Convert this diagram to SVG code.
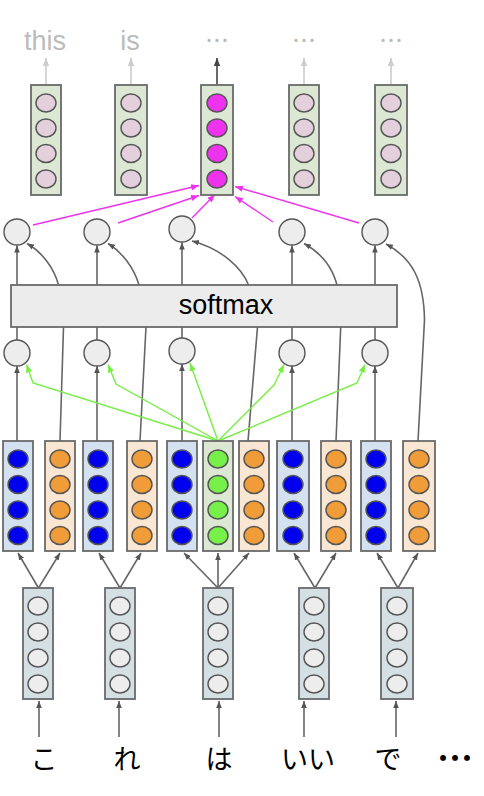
<svg xmlns="http://www.w3.org/2000/svg" width="484" height="796" viewBox="0 0 484 796">
<style>
  .box{stroke:#6a6a6a;stroke-width:1.8}
  .b-out{fill:#dce8d4}
  .b-blue{fill:#d4e1f0}
  .b-orange{fill:#f9e6d3}
  .b-in{fill:#d5e0e4}
  .b-soft{fill:#ececec}
  .n{stroke:#555;stroke-width:1.4}
  .c-pink{fill:#e4d0dc}
  .c-mag{fill:#ee33ee}
  .c-blue{fill:#0000ee}
  .c-orange{fill:#f09c38}
  .c-green{fill:#77f04a}
  .c-gray{fill:#ededed}
  .ln{fill:none;stroke:#666;stroke-width:1.6}
  .lnlight{fill:none;stroke:#cccccc;stroke-width:1.6}
  .lndark{fill:none;stroke:#444;stroke-width:1.6}
  .mag{fill:none;stroke:#ee33ee;stroke-width:1.4}
  .grn{fill:none;stroke:#77ee44;stroke-width:1.4}
  .lbl{font-family:"Liberation Sans",Arial,sans-serif;font-size:27px;fill:#bbbbbb;text-anchor:middle}
  .dots{font-family:"Noto Sans CJK JP","Noto Sans",sans-serif;font-size:24px;fill:#bbbbbb;text-anchor:middle}
  .jp{font-family:"Noto Sans CJK JP","Noto Sans",sans-serif;font-size:27px;fill:#000;text-anchor:middle}
</style>
<defs>
  <marker id="ag" viewBox="0 0 10 10" refX="10" refY="5" markerWidth="7" markerHeight="7" markerUnits="userSpaceOnUse" orient="auto"><path d="M0,1 L10,5 L0,9 z" fill="#555"/></marker>
  <marker id="al" viewBox="0 0 10 10" refX="10" refY="5" markerWidth="8" markerHeight="8" markerUnits="userSpaceOnUse" orient="auto"><path d="M0,1 L10,5 L0,9 z" fill="#cccccc"/></marker>
  <marker id="ad" viewBox="0 0 10 10" refX="10" refY="5" markerWidth="8" markerHeight="8" markerUnits="userSpaceOnUse" orient="auto"><path d="M0,1 L10,5 L0,9 z" fill="#444"/></marker>
  <marker id="am" viewBox="0 0 10 10" refX="10" refY="5" markerWidth="8" markerHeight="8" markerUnits="userSpaceOnUse" orient="auto"><path d="M0,1 L10,5 L0,9 z" fill="#ee33ee"/></marker>
  <marker id="agr" viewBox="0 0 10 10" refX="10" refY="5" markerWidth="8" markerHeight="8" markerUnits="userSpaceOnUse" orient="auto"><path d="M0,1 L10,5 L0,9 z" fill="#77ee44"/></marker>
</defs>

<g id="connectors">
  <line class="lnlight" x1="46" y1="85" x2="46" y2="58" marker-end="url(#al)"/>
  <line class="lnlight" x1="131" y1="85" x2="131" y2="58" marker-end="url(#al)"/>
  <line class="lndark" x1="217" y1="85" x2="217" y2="58" marker-end="url(#ad)"/>
  <line class="lnlight" x1="304" y1="85" x2="304" y2="58" marker-end="url(#al)"/>
  <line class="lnlight" x1="391" y1="85" x2="391" y2="58" marker-end="url(#al)"/>
  <line class="mag" x1="33" y1="225" x2="199" y2="185.5" marker-end="url(#am)"/>
  <line class="mag" x1="118" y1="223" x2="199" y2="195.5" marker-end="url(#am)"/>
  <line class="mag" x1="192" y1="218" x2="215" y2="194.5" marker-end="url(#am)"/>
  <line class="mag" x1="273" y1="222" x2="235" y2="196.5" marker-end="url(#am)"/>
  <line class="mag" x1="359" y1="223" x2="235" y2="186.5" marker-end="url(#am)"/>
  <path class="ln" d="M60,441 L63.5,327 L58.5,285 C54,268 42,252 27,243.5" marker-end="url(#ag)"/>
  <path class="ln" d="M140,441 L146,327 L139,285 C134,268 122,252 108,243.5" marker-end="url(#ag)"/>
  <path class="ln" d="M248,441 L257.5,327 L248.5,285 C242,268 222,249 192,241" marker-end="url(#ag)"/>
  <path class="ln" d="M336,441 L341,320 C341,280 330,258 304,243.5" marker-end="url(#ag)"/>
  <path class="ln" d="M418,441 L424.5,320 C424,280 412,258 386,244" marker-end="url(#ag)"/>
  <line class="ln" x1="17" y1="285" x2="17" y2="245.5" marker-end="url(#ag)"/>
  <line class="ln" x1="97" y1="285" x2="97" y2="245.5" marker-end="url(#ag)"/>
  <line class="ln" x1="182" y1="285" x2="182" y2="242.5" marker-end="url(#ag)"/>
  <line class="ln" x1="292" y1="285" x2="292" y2="245.5" marker-end="url(#ag)"/>
  <line class="ln" x1="375" y1="285" x2="375" y2="245.5" marker-end="url(#ag)"/>
  <line class="ln" x1="17" y1="327" x2="17" y2="340"/>
  <line class="ln" x1="97" y1="327" x2="97" y2="340"/>
  <line class="ln" x1="182" y1="327" x2="182" y2="338"/>
  <line class="ln" x1="292" y1="327" x2="292" y2="340"/>
  <line class="ln" x1="375" y1="327" x2="375" y2="340"/>
  <line class="ln" x1="17" y1="441" x2="17" y2="366" marker-end="url(#ag)"/>
  <line class="ln" x1="97" y1="441" x2="97" y2="366" marker-end="url(#ag)"/>
  <line class="ln" x1="182" y1="441" x2="182" y2="364" marker-end="url(#ag)"/>
  <line class="ln" x1="292" y1="441" x2="292" y2="366" marker-end="url(#ag)"/>
  <line class="ln" x1="375" y1="441" x2="375" y2="366" marker-end="url(#ag)"/>
  <polyline class="grn" points="218,441 33,383 26.5,364.5" marker-end="url(#agr)"/>
  <polyline class="grn" points="218,441 116,384 108,364.5" marker-end="url(#agr)"/>
  <polyline class="grn" points="218,441 190,363" marker-end="url(#agr)"/>
  <polyline class="grn" points="218,441 274,385 284,364.5" marker-end="url(#agr)"/>
  <polyline class="grn" points="218,441 357,383 365,364.5" marker-end="url(#agr)"/>
  <line class="ln" x1="38.5" y1="588" x2="18" y2="553" marker-end="url(#ag)"/>
  <line class="ln" x1="38.5" y1="588" x2="60" y2="553" marker-end="url(#ag)"/>
  <line class="ln" x1="120" y1="588" x2="99" y2="553" marker-end="url(#ag)"/>
  <line class="ln" x1="120" y1="588" x2="141" y2="553" marker-end="url(#ag)"/>
  <line class="ln" x1="218" y1="588" x2="184" y2="553" marker-end="url(#ag)"/>
  <line class="ln" x1="218" y1="588" x2="218" y2="553" marker-end="url(#ag)"/>
  <line class="ln" x1="218" y1="588" x2="249" y2="553" marker-end="url(#ag)"/>
  <line class="ln" x1="315" y1="588" x2="294" y2="553" marker-end="url(#ag)"/>
  <line class="ln" x1="315" y1="588" x2="336" y2="553" marker-end="url(#ag)"/>
  <line class="ln" x1="398" y1="588" x2="377" y2="553" marker-end="url(#ag)"/>
  <line class="ln" x1="398" y1="588" x2="418" y2="553" marker-end="url(#ag)"/>
  <line class="ln" x1="39" y1="737" x2="39" y2="701" marker-end="url(#ag)"/>
  <line class="ln" x1="119" y1="737" x2="119" y2="701" marker-end="url(#ag)"/>
  <line class="ln" x1="219" y1="737" x2="219" y2="701" marker-end="url(#ag)"/>
  <line class="ln" x1="304" y1="737" x2="304" y2="701" marker-end="url(#ag)"/>
  <line class="ln" x1="396" y1="737" x2="396" y2="701" marker-end="url(#ag)"/>
</g>

<g id="labels-out">
  <text class="lbl" x="45" y="50">this</text>
  <text class="lbl" x="130" y="50">is</text>
  <text class="dots" x="217" y="49">⋯</text>
  <text class="dots" x="304" y="49">⋯</text>
  <text class="dots" x="391" y="49">⋯</text>
</g>

<g id="out1"><rect class="box b-out" x="31" y="85" width="30" height="110"/>
  <ellipse class="n c-pink" cx="46" cy="103" rx="10" ry="9"/><ellipse class="n c-pink" cx="46" cy="128" rx="10" ry="9"/><ellipse class="n c-pink" cx="46" cy="153.5" rx="10" ry="9"/><ellipse class="n c-pink" cx="46" cy="179" rx="10" ry="9"/></g>
<g id="out2"><rect class="box b-out" x="115" y="85" width="32" height="110"/>
  <ellipse class="n c-pink" cx="131" cy="103" rx="10" ry="9"/><ellipse class="n c-pink" cx="131" cy="128" rx="10" ry="9"/><ellipse class="n c-pink" cx="131" cy="153.5" rx="10" ry="9"/><ellipse class="n c-pink" cx="131" cy="179" rx="10" ry="9"/></g>
<g id="out3"><rect class="box b-out" x="201" y="85" width="32" height="110"/>
  <ellipse class="n c-mag" cx="217" cy="103" rx="10" ry="9"/><ellipse class="n c-mag" cx="217" cy="128" rx="10" ry="9"/><ellipse class="n c-mag" cx="217" cy="153.5" rx="10" ry="9"/><ellipse class="n c-mag" cx="217" cy="179" rx="10" ry="9"/></g>
<g id="out4"><rect class="box b-out" x="289" y="85" width="30" height="110"/>
  <ellipse class="n c-pink" cx="304" cy="103" rx="10" ry="9"/><ellipse class="n c-pink" cx="304" cy="128" rx="10" ry="9"/><ellipse class="n c-pink" cx="304" cy="153.5" rx="10" ry="9"/><ellipse class="n c-pink" cx="304" cy="179" rx="10" ry="9"/></g>
<g id="out5"><rect class="box b-out" x="375" y="85" width="32" height="110"/>
  <ellipse class="n c-pink" cx="391" cy="103" rx="10" ry="9"/><ellipse class="n c-pink" cx="391" cy="128" rx="10" ry="9"/><ellipse class="n c-pink" cx="391" cy="153.5" rx="10" ry="9"/><ellipse class="n c-pink" cx="391" cy="179" rx="10" ry="9"/></g>

<g id="upper-nodes">
  <circle class="n c-gray" cx="17" cy="232" r="13"/>
  <circle class="n c-gray" cx="97" cy="232" r="13"/>
  <circle class="n c-gray" cx="182" cy="229" r="13"/>
  <circle class="n c-gray" cx="292" cy="232" r="13"/>
  <circle class="n c-gray" cx="375" cy="232" r="13"/>
</g>

<g id="softmax">
  <rect class="box b-soft" x="11" y="285" width="386" height="42"/>
  <text x="226" y="314" style="font-family:'Liberation Sans',Arial,sans-serif;font-size:27px;fill:#000;text-anchor:middle">softmax</text>
</g>

<g id="lower-nodes">
  <circle class="n c-gray" cx="17" cy="353" r="13"/>
  <circle class="n c-gray" cx="97" cy="353" r="13"/>
  <circle class="n c-gray" cx="182" cy="351" r="13"/>
  <circle class="n c-gray" cx="292" cy="353" r="13"/>
  <circle class="n c-gray" cx="375" cy="353" r="13"/>
</g>

<g id="enc-blue1"><rect class="box b-blue" x="3" y="441" width="30" height="110"/>
  <ellipse class="n c-blue" cx="18" cy="459" rx="10" ry="9"/><ellipse class="n c-blue" cx="18" cy="484.5" rx="10" ry="9"/><ellipse class="n c-blue" cx="18" cy="510" rx="10" ry="9"/><ellipse class="n c-blue" cx="18" cy="535.5" rx="10" ry="9"/></g>
<g id="enc-orange1"><rect class="box b-orange" x="45" y="441" width="30" height="110"/>
  <ellipse class="n c-orange" cx="60" cy="459" rx="10" ry="9"/><ellipse class="n c-orange" cx="60" cy="484.5" rx="10" ry="9"/><ellipse class="n c-orange" cx="60" cy="510" rx="10" ry="9"/><ellipse class="n c-orange" cx="60" cy="535.5" rx="10" ry="9"/></g>
<g id="enc-blue2"><rect class="box b-blue" x="83" y="441" width="30" height="110"/>
  <ellipse class="n c-blue" cx="98" cy="459" rx="10" ry="9"/><ellipse class="n c-blue" cx="98" cy="484.5" rx="10" ry="9"/><ellipse class="n c-blue" cx="98" cy="510" rx="10" ry="9"/><ellipse class="n c-blue" cx="98" cy="535.5" rx="10" ry="9"/></g>
<g id="enc-orange2"><rect class="box b-orange" x="127" y="441" width="30" height="110"/>
  <ellipse class="n c-orange" cx="142" cy="459" rx="10" ry="9"/><ellipse class="n c-orange" cx="142" cy="484.5" rx="10" ry="9"/><ellipse class="n c-orange" cx="142" cy="510" rx="10" ry="9"/><ellipse class="n c-orange" cx="142" cy="535.5" rx="10" ry="9"/></g>
<g id="enc-blue3"><rect class="box b-blue" x="167" y="441" width="30" height="110"/>
  <ellipse class="n c-blue" cx="182" cy="459" rx="10" ry="9"/><ellipse class="n c-blue" cx="182" cy="484.5" rx="10" ry="9"/><ellipse class="n c-blue" cx="182" cy="510" rx="10" ry="9"/><ellipse class="n c-blue" cx="182" cy="535.5" rx="10" ry="9"/></g>
<g id="enc-green"><rect class="box b-out" x="203" y="441" width="30" height="110"/>
  <ellipse class="n c-green" cx="218" cy="459" rx="10" ry="9"/><ellipse class="n c-green" cx="218" cy="484.5" rx="10" ry="9"/><ellipse class="n c-green" cx="218" cy="510" rx="10" ry="9"/><ellipse class="n c-green" cx="218" cy="535.5" rx="10" ry="9"/></g>
<g id="enc-orange3"><rect class="box b-orange" x="239" y="441" width="30" height="110"/>
  <ellipse class="n c-orange" cx="254" cy="459" rx="10" ry="9"/><ellipse class="n c-orange" cx="254" cy="484.5" rx="10" ry="9"/><ellipse class="n c-orange" cx="254" cy="510" rx="10" ry="9"/><ellipse class="n c-orange" cx="254" cy="535.5" rx="10" ry="9"/></g>
<g id="enc-blue4"><rect class="box b-blue" x="277" y="441" width="32" height="110"/>
  <ellipse class="n c-blue" cx="293" cy="459" rx="10" ry="9"/><ellipse class="n c-blue" cx="293" cy="484.5" rx="10" ry="9"/><ellipse class="n c-blue" cx="293" cy="510" rx="10" ry="9"/><ellipse class="n c-blue" cx="293" cy="535.5" rx="10" ry="9"/></g>
<g id="enc-orange4"><rect class="box b-orange" x="321" y="441" width="30" height="110"/>
  <ellipse class="n c-orange" cx="336" cy="459" rx="10" ry="9"/><ellipse class="n c-orange" cx="336" cy="484.5" rx="10" ry="9"/><ellipse class="n c-orange" cx="336" cy="510" rx="10" ry="9"/><ellipse class="n c-orange" cx="336" cy="535.5" rx="10" ry="9"/></g>
<g id="enc-blue5"><rect class="box b-blue" x="361" y="441" width="30" height="110"/>
  <ellipse class="n c-blue" cx="376" cy="459" rx="10" ry="9"/><ellipse class="n c-blue" cx="376" cy="484.5" rx="10" ry="9"/><ellipse class="n c-blue" cx="376" cy="510" rx="10" ry="9"/><ellipse class="n c-blue" cx="376" cy="535.5" rx="10" ry="9"/></g>
<g id="enc-orange5"><rect class="box b-orange" x="403" y="441" width="32" height="110"/>
  <ellipse class="n c-orange" cx="419" cy="459" rx="10" ry="9"/><ellipse class="n c-orange" cx="419" cy="484.5" rx="10" ry="9"/><ellipse class="n c-orange" cx="419" cy="510" rx="10" ry="9"/><ellipse class="n c-orange" cx="419" cy="535.5" rx="10" ry="9"/></g>

<g id="in1"><rect class="box b-in" x="23" y="588" width="30" height="111"/>
  <ellipse class="n c-gray" cx="38" cy="606" rx="10" ry="9"/><ellipse class="n c-gray" cx="38" cy="632" rx="10" ry="9"/><ellipse class="n c-gray" cx="38" cy="658" rx="10" ry="9"/><ellipse class="n c-gray" cx="38" cy="684" rx="10" ry="9"/></g>
<g id="in2"><rect class="box b-in" x="105" y="588" width="30" height="111"/>
  <ellipse class="n c-gray" cx="120" cy="606" rx="10" ry="9"/><ellipse class="n c-gray" cx="120" cy="632" rx="10" ry="9"/><ellipse class="n c-gray" cx="120" cy="658" rx="10" ry="9"/><ellipse class="n c-gray" cx="120" cy="684" rx="10" ry="9"/></g>
<g id="in3"><rect class="box b-in" x="203" y="588" width="30" height="111"/>
  <ellipse class="n c-gray" cx="218" cy="606" rx="10" ry="9"/><ellipse class="n c-gray" cx="218" cy="632" rx="10" ry="9"/><ellipse class="n c-gray" cx="218" cy="658" rx="10" ry="9"/><ellipse class="n c-gray" cx="218" cy="684" rx="10" ry="9"/></g>
<g id="in4"><rect class="box b-in" x="299" y="588" width="30" height="111"/>
  <ellipse class="n c-gray" cx="314" cy="606" rx="10" ry="9"/><ellipse class="n c-gray" cx="314" cy="632" rx="10" ry="9"/><ellipse class="n c-gray" cx="314" cy="658" rx="10" ry="9"/><ellipse class="n c-gray" cx="314" cy="684" rx="10" ry="9"/></g>
<g id="in5"><rect class="box b-in" x="381" y="588" width="32" height="111"/>
  <ellipse class="n c-gray" cx="397" cy="606" rx="10" ry="9"/><ellipse class="n c-gray" cx="397" cy="632" rx="10" ry="9"/><ellipse class="n c-gray" cx="397" cy="658" rx="10" ry="9"/><ellipse class="n c-gray" cx="397" cy="684" rx="10" ry="9"/></g>

<g id="labels-in">
  <text class="jp" x="44" y="769">こ</text>
  <text class="jp" x="127" y="769">れ</text>
  <text class="jp" x="219" y="769">は</text>
  <text class="jp" x="308" y="769">いい</text>
  <text class="jp" x="388" y="769">で</text>
  <text class="jp" x="455" y="772" style="font-weight:bold;font-size:36px">⋯</text>
</g>
</svg>
